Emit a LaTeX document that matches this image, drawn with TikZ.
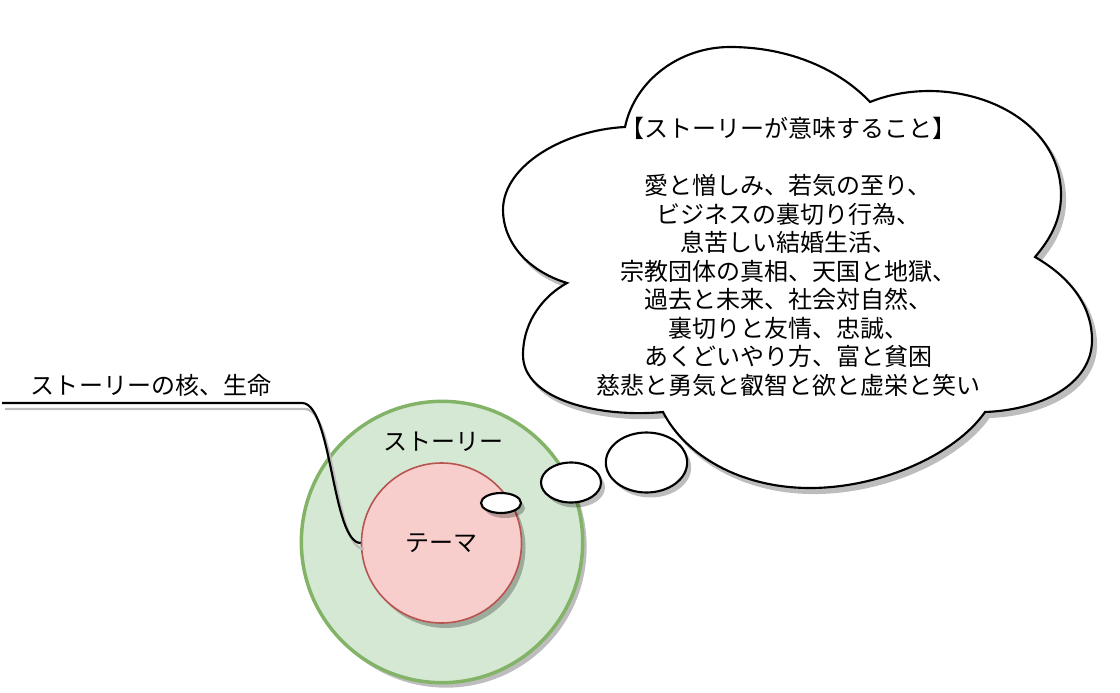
\documentclass[tikz,border=0pt]{standalone}
\usepackage{fontspec}
\setmainfont{Noto Sans CJK JP}
\usetikzlibrary{shapes.geometric,shadows}
\definecolor{storyfill}{HTML}{D5E8D4}
\definecolor{storyline}{HTML}{82B366}
\definecolor{themefill}{HTML}{F8CECC}
\definecolor{themeline}{HTML}{B85450}
\definecolor{shadowgray}{HTML}{BDBDBD}
\begin{document}
\begin{tikzpicture}[x=0.75pt,y=-0.75pt,
  txt/.style={font=\fontsize{18}{21.4}\selectfont, inner sep=0pt},
  shad/.style={drop shadow={shadow xshift=3pt,shadow yshift=-3.75pt,fill=black,opacity=0.26}},
  storycircle/.style={circle, draw=storyline, line width=2.6pt, fill=storyfill, minimum size=211pt, inner sep=0pt, shad},
  themecircle/.style={circle, draw=themeline, line width=1.2pt, fill=themefill, minimum size=120pt, inner sep=0pt, shad, txt},
  bubble/.style={ellipse, draw=black, line width=1.6pt, fill=white, inner sep=0pt, shad},
  leader/.style={line width=1.6pt, draw=black},
  leadershadow/.style={line width=1.8pt, draw=shadowgray},
]
\useasboundingbox (0,0) rectangle (1120,692);

% cloud (shadow first, then the cloud itself)
\foreach \dx/\dy/\fc/\dc in {4/5/shadowgray/shadowgray, 0/0/white/black} {
  \path[fill=\fc, draw=\dc, line width=1.6pt, line join=miter, shift={(\dx,\dy)}]
    (625,127) .. controls (635,80) and (680,47) .. (730,47)
              .. controls (790,47) and (840,70) .. (870,102)
              .. controls (950,70) and (1061,110) .. (1061,195)
              .. controls (1061,225) and (1045,245) .. (1035,257)
              .. controls (1075,280) and (1092,310) .. (1092,340)
              .. controls (1092,385) and (1040,410) .. (985,412)
              .. controls (955,455) and (880,488) .. (810,488)
              .. controls (740,488) and (685,455) .. (663,412)
              .. controls (600,418) and (523,400) .. (523,355)
              .. controls (523,320) and (545,295) .. (567,283)
              .. controls (525,270) and (503,240) .. (503,210)
              .. controls (503,165) and (565,130) .. (625,127)
    -- cycle;
}

\node[txt, align=center] (meaning) at (788,257) {【ストーリーが意味すること】\\\mbox{}\\
愛と憎しみ、若気の至り、\\
ビジネスの裏切り行為、\\
息苦しい結婚生活、\\
宗教団体の真相、天国と地獄、\\
過去と未来、社会対自然、\\
裏切りと友情、忠誠、\\
あくどいやり方、富と貧困\\
慈悲と勇気と叡智と欲と虚栄と笑い};

% circles
\node[storycircle] (story) at (442,542) {};
\node[txt] (storylabel) at (443,442) {ストーリー};
\node[themecircle] (theme) at (441.5,543) {テーマ};

% leader line to the theme
\node[txt] (corelabel) at (151,385) {ストーリーの核、生命};
\coordinate (lstart) at (2,403);
\coordinate (lbend) at (302,403);
\coordinate (sstart) at (5,409);
\coordinate (sbend) at (305,409);
\coordinate (send) at (364,549);
\draw[leadershadow] (sstart) -- (sbend) .. controls (335,409) and (335,549) .. (send);
\draw[leader] (lstart) -- (lbend) .. controls (332,403) and (332,543) .. (theme.west);

% thought bubbles
\node[bubble, minimum width=30pt, minimum height=15pt] (b1) at (501,503) {};
\node[bubble, minimum width=45pt, minimum height=30pt] (b2) at (571,482.5) {};
\node[bubble, minimum width=61pt, minimum height=45pt] (b3) at (646.5,462.5) {};
\end{tikzpicture}
\end{document}
